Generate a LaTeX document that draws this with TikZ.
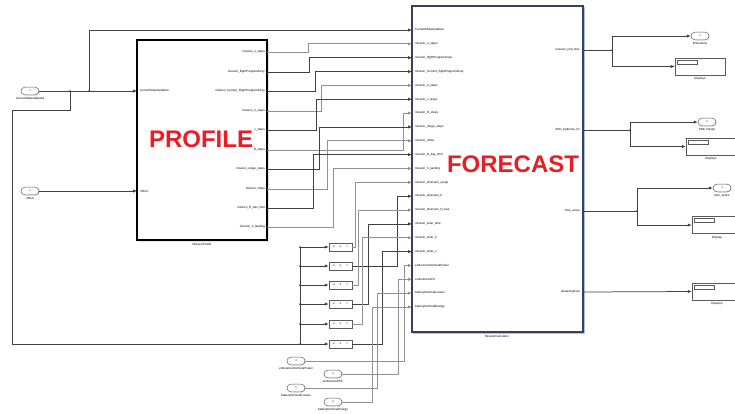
\documentclass[tikz,border=0pt]{standalone}
\usepackage{fontspec}
\setmainfont{Liberation Sans}
\usetikzlibrary{arrows.meta,shadows,calc}
\definecolor{wiredark}{RGB}{65,65,65}
\definecolor{wirelight}{RGB}{145,145,145}
\definecolor{redtxt}{RGB}{236,28,36}
\definecolor{fcborder}{RGB}{55,65,95}
\definecolor{fcshadow}{RGB}{170,195,230}
\definecolor{blkborder}{RGB}{90,90,90}
\tikzset{
  wire/.style={draw=wiredark, line width=0.75pt},
  lwire/.style={draw=wirelight, line width=1pt},
  arr/.style={-{Latex[length=4pt,width=3.4pt]}},
  tinytxt/.style={font=\fontsize{3}{3.5}\selectfont, inner sep=0pt},
  iport/.style={draw=blkborder, fill=white, rounded corners=3.8pt, minimum width=18pt, minimum height=7.6pt, inner sep=0pt, line width=0.5pt, font=\fontsize{2.5}{3}\selectfont, drop shadow={shadow xshift=0.7pt, shadow yshift=-0.7pt, fill=gray!45}},
  pblock/.style={draw=black, fill=white, line width=1.1pt, inner sep=0pt, drop shadow={shadow xshift=1.5pt, shadow yshift=-1.5pt, fill=gray!40}},
  fblock/.style={draw=fcborder, fill=white, line width=1.1pt, inner sep=0pt},
  dispbox/.style={draw=blkborder, fill=white, line width=0.5pt, minimum width=50pt, minimum height=17pt, inner sep=0pt, drop shadow={shadow xshift=0.8pt, shadow yshift=-0.8pt, fill=gray!40}},
  selbox/.style={draw=blkborder, fill=white, line width=0.5pt, minimum width=23pt, minimum height=8pt, inner sep=0pt, font=\fontsize{2.5}{3}\selectfont, drop shadow={shadow xshift=0.7pt, shadow yshift=-0.7pt, fill=gray!40}},
  bigred/.style={font=\fontsize{24}{24}\selectfont\bfseries, text=redtxt, inner sep=0pt},
  jdot/.style={fill=wiredark},
}
\begin{document}
\begin{tikzpicture}[x=1pt,y=-1pt]
\useasboundingbox (0,0) rectangle (735,413);
\clip (0,0) rectangle (735,413);
\fill[white] (0,0) rectangle (735,413);

% ---------------- Profile block
\node[pblock, minimum width=130pt, minimum height=200pt] (prof) at (202,140) {};
\node[tinytxt] (proflab) at (202,244) {MissionProfile};
\node[bigred] (ptitle) at (201,139) {PROFILE};
\coordinate (pi1) at (137,91);
\coordinate (pi2) at (137,191);
\node[tinytxt, anchor=west] (pil1) at (140,91) {CurrentStateUpdated};
\node[tinytxt, anchor=west] (pil2) at (140,191) {VRUs};
\foreach \i/\y/\t in {1/52/mission\_n\_steps, 2/72/mission\_flightProgramArray, 3/91/mission\_Current\_FlightProgramArray, 4/111/mission\_h\_steps, 5/130/v\_steps, 6/150/R\_steps, 7/169/mission\_range\_steps, 8/189/mission\_vMax, 9/208/mission\_R\_bas\_limit, 10/227/mission\_h\_landing}{
  \coordinate (po\i) at (267,\y);
  \node[tinytxt, anchor=east] (pol\i) at (265,\y) {\t};
}

% ---------------- Forecast block
\node[draw=fcshadow, line width=1.5pt, minimum width=171pt, minimum height=326pt, inner sep=0pt] (fcsh) at (499,170.5) {};
\node[fblock, minimum width=171pt, minimum height=326pt] (fc) at (497.5,169) {};
\node[tinytxt] (fclab) at (497,336) {MissionCalculator};
\node[bigred] (ftitle) at (513,164) {FORECAST};
\foreach \i/\t in {1/CurrentStateUpdated, 2/mission\_n\_steps, 3/mission\_flightProgramArray, 4/mission\_Current\_flightProgramArray, 5/mission\_h\_steps, 6/mission\_v\_steps, 7/mission\_R\_steps, 8/mission\_range\_steps, 9/mission\_vMax, 10/mission\_R\_bas\_limit, 11/mission\_h\_landing, 12/mission\_diversion\_range, 13/mission\_diversion\_h, 14/mission\_diversion\_R\_bas, 15/mission\_loiter\_time, 16/mission\_loiter\_h, 17/mission\_loiter\_v, 18/endurenceNominalPower, 19/endurenceSFC, 20/batteryNominalLosses, 21/batteryNominalEnergy}{
  \pgfmathsetmacro{\yy}{30+(\i-1)*13.85}
  \coordinate (fi\i) at (412,\yy);
  \node[tinytxt, anchor=west] (fil\i) at (415,\yy) {\t};
}
\coordinate (fo1) at (583,50);
\coordinate (fo2) at (583,130);
\coordinate (fo3) at (583,211);
\coordinate (fo4) at (583,292);
\node[tinytxt, anchor=east] (fol1) at (580,50) {mission\_end\_time};
\node[tinytxt, anchor=east] (fol2) at (580,130) {SOC\_batteries\_fin};
\node[tinytxt, anchor=east] (fol3) at (580,211) {time\_arrive};
\node[tinytxt, anchor=east] (fol4) at (580,292) {remainingFuel};

% ---------------- Left inports
\node[iport] (ip1) at (30,91) {1};
\node[tinytxt] (ip1l) at (30,98.5) {CurrentStateUpdated};
\node[iport] (ip2) at (30,191) {2};
\node[tinytxt] (ip2l) at (30,198.5) {VRUs};

\coordinate (b1) at (70,91);
\coordinate (b2) at (89,91);
\coordinate (c1) at (70,110);
\coordinate (c2) at (12,110);
\coordinate (c3) at (12,344);
\draw[wire,arr] (ip1.east) -- (pi1);
\draw[wire,arr] (ip2.east) -- (pi2);
\draw[wire,arr] (b2) |- (fi1);
\fill[jdot] (b1) circle (1pt);
\fill[jdot] (b2) circle (1pt);

% ---------------- Selector blocks
\foreach \i/\y in {1/247, 2/266, 3/285, 4/304, 5/324, 6/344}{
  \node[selbox] (s\i) at (340.5,\y) {U\hspace{5pt}S\hspace{5pt}Y};
  \coordinate (bus\i) at (300,\y);
  \draw[wire,arr] (bus\i) -- (s\i.west);
  \fill[jdot] (bus\i) circle (1pt);
}
\draw[wire] (b1) -- (c1) -- (c2) -- (c3) -- (bus6);
\draw[wire] (bus1) -- (bus6);

% ---------------- Profile -> Forecast wires
\draw[lwire,arr] (po1) -- ++(41,0) |- (fi2);
\draw[wire,arr] (po2) -- ++(42,0) |- (fi3);
\draw[wire,arr] (po3) -- ++(48,0) |- (fi4);
\draw[lwire,arr] (po4) -- ++(54,0) |- (fi5);
\draw[wire,arr] (po5) -- ++(49,0) |- (fi6);
\draw[lwire,arr] (po6) -- ++(136,0) |- (fi7);
\draw[wire,arr] (po7) -- ++(52,0) |- (fi8);
\draw[lwire,arr] (po8) -- ++(60,0) |- (fi9);
\draw[wire,arr] (po9) -- ++(46,0) |- (fi10);
\draw[lwire,arr] (po10) -- ++(66,0) |- (fi11);

% ---------------- Selector -> Forecast wires
\draw[lwire,arr] (s1.east) -- ++(3,0) |- (fi12);
\draw[wire,arr] (s2.east) -- ++(45,0) |- (fi13);
\draw[lwire,arr] (s3.east) -- ++(6,0) |- (fi14);
\draw[wire,arr] (s4.east) -- ++(16,0) |- (fi15);
\draw[lwire,arr] (s5.east) -- ++(10,0) |- (fi16);
\draw[wire,arr] (s6.east) -- ++(30,0) |- (fi17);

% ---------------- Bottom inports
\node[iport] (ip3) at (296,361) {3};
\node[tinytxt] (ip3l) at (296,368.5) {endurenceNominalPower};
\node[iport] (ip4) at (333,374) {4};
\node[tinytxt] (ip4l) at (333,381.5) {endurenceSFC};
\node[iport] (ip5) at (296,388) {5};
\node[tinytxt] (ip5l) at (296,395.5) {batteryNominalLosses};
\node[iport] (ip6) at (333,402) {6};
\node[tinytxt] (ip6l) at (333,409.5) {batteryNominalEnergy};
\draw[lwire,arr] (ip3.east) -- (404,361) |- (fi18);
\draw[lwire,arr] (ip4.east) -- (398,374) |- (fi19);
\draw[lwire,arr] (ip5.east) -- (377,388) |- (fi20);
\draw[lwire,arr] (ip6.east) -- (372,402) |- (fi21);

% ---------------- Outputs
\node[iport] (op1) at (700,36) {1};
\node[tinytxt] (op1l) at (700,43.5) {Endurance};
\node[dispbox] (d2) at (700,66.5) {};
\node[tinytxt] (d2l) at (700,79) {Display2};
\node[iport] (op2) at (707,122) {2};
\node[tinytxt] (op2l) at (707,129.5) {SOC margin};
\node[dispbox] (d1) at (711,146.5) {};
\node[tinytxt] (d1l) at (711,159) {Display1};
\node[iport] (op3) at (722,188) {3};
\node[tinytxt] (op3l) at (722,195.5) {time\_active};
\node[dispbox] (d0) at (717,225) {};
\node[tinytxt] (d0l) at (717,237.5) {Display};
\node[dispbox] (d3) at (717,291.5) {};
\node[tinytxt] (d3l) at (717,304) {Display3};
\foreach \d in {d0,d1,d2,d3}{
  \draw[draw=blkborder, fill=white, line width=0.4pt] ($(\d.north west)+(2,2)$) rectangle ++(20,4);
}

\coordinate (r1) at (612,50);
\coordinate (r2) at (630,130);
\coordinate (r3) at (637,211);
\draw[wire] (fo1) -- (r1);
\draw[wire,arr] (r1) |- (op1.west);
\draw[wire,arr] (r1) |- (d2.west);
\fill[jdot] (r1) circle (1pt);
\draw[wire] (fo2) -- (r2);
\draw[wire,arr] (r2) |- (op2.west);
\draw[wire,arr] (r2) |- (d1.west);
\fill[jdot] (r2) circle (1pt);
\draw[wire] (fo3) -- (r3);
\draw[wire,arr] (r3) |- (op3.west);
\draw[wire,arr] (r3) |- (d0.west);
\fill[jdot] (r3) circle (1pt);
\draw[wire,arr] (fo4) -- (d3.west);
\end{tikzpicture}
\end{document}
